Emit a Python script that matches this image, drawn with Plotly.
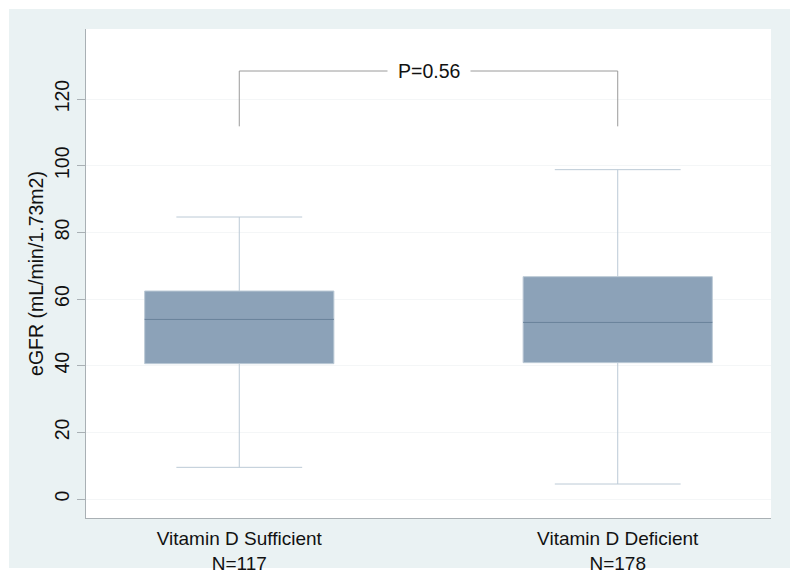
import plotly.graph_objects as go

# ---- data ----
categories = ["Vitamin D Sufficient", "Vitamin D Deficient"]
n_labels = ["N=117", "N=178"]
q1_vals = [40.6, 40.9]
median_vals = [53.9, 53.0]
q3_vals = [62.4, 66.7]
lower_whisker = [9.5, 4.5]
upper_whisker = [84.6, 98.8]
bracket_top = 128.4
bracket_bottom = 111.8
p_label = "P=0.56"
y_ticks = [0, 20, 40, 60, 80, 100, 120]
y_title = "eGFR (mL/min/1.73m2)"

# ---- style ----
FONT = "Liberation Sans, Arial, Helvetica, sans-serif"
FS = 19.5
OUTER_BG = "#eaf2f3"
BOX_FILL = "#8ca2b8"
WHISKER = "#bccad6"
MEDIAN = "#5d7792"
BRACKET = "#9a9a9a"
AXIS = "#a9b0b4"
TEXT = "#111111"
BOX_W = 0.5

positions = list(range(len(categories)))
tick_text = [f"{c}<br>{n}" for c, n in zip(categories, n_labels)]

fig = go.Figure()

for i, pos in enumerate(positions):
    fig.add_trace(go.Box(
        x=[pos],
        q1=[q1_vals[i]], median=[median_vals[i]], q3=[q3_vals[i]],
        lowerfence=[lower_whisker[i]], upperfence=[upper_whisker[i]],
        width=BOX_W, whiskerwidth=0.665,
        fillcolor=BOX_FILL,
        line=dict(color=WHISKER, width=1),
        boxpoints=False, showlegend=False, hoverinfo="skip",
    ))
    # darker median line on top of the box
    fig.add_trace(go.Scatter(
        x=[pos - BOX_W / 2, pos + BOX_W / 2],
        y=[median_vals[i], median_vals[i]],
        mode="lines", line=dict(color=MEDIAN, width=1),
        showlegend=False, hoverinfo="skip",
    ))

# significance bracket
fig.add_trace(go.Scatter(
    x=[positions[0], positions[0], positions[1], positions[1]],
    y=[bracket_bottom, bracket_top, bracket_top, bracket_bottom],
    mode="lines", line=dict(color=BRACKET, width=1),
    showlegend=False, hoverinfo="skip",
))
fig.add_annotation(
    x=(positions[0] + positions[1]) / 2, y=bracket_top, xref="x", yref="y",
    text=p_label, showarrow=False, font=dict(family=FONT, size=FS, color=TEXT),
    bgcolor="white", borderpad=10, xanchor="center", yanchor="middle",
)

# white page border around the light graph region
border = [
    (-0.14, -0.1124, -0.14, 1.08),   # left
    (1.0277, 1.06, -0.14, 1.08),     # right
    (-0.14, 1.06, 1.0409, 1.08),     # top
    (-0.14, 1.06, -0.14, -0.1022),   # bottom
]
for x0, x1, y0, y1 in border:
    fig.add_shape(type="rect", xref="paper", yref="paper",
                  x0=x0, x1=x1, y0=y0, y1=y1,
                  fillcolor="white", line=dict(width=0), layer="below")

fig.update_layout(
    width=800, height=579,
    margin=dict(l=86, r=29, t=29, b=61, autoexpand=False),
    paper_bgcolor=OUTER_BG, plot_bgcolor="white",
    font=dict(family=FONT, size=FS, color=TEXT),
    showlegend=False,
    xaxis=dict(
        range=[-0.405, 1.405], tickvals=positions, ticktext=tick_text,
        automargin=False,
        showgrid=False, zeroline=False,
        showline=True, linecolor=AXIS, linewidth=1,
        ticks="outside", ticklen=3, tickcolor="rgba(0,0,0,0)",
        tickfont=dict(family=FONT, size=19, color=TEXT),
        fixedrange=True,
    ),
    yaxis=dict(
        range=[-5.7, 141], tickvals=y_ticks,
        automargin=False,
        tickangle=-90,
        showgrid=True, gridcolor="#f4f6f7", gridwidth=1,
        zeroline=False,
        showline=True, linecolor=AXIS, linewidth=1,
        ticks="outside", ticklen=8, tickcolor=AXIS,
        tickfont=dict(family=FONT, size=FS, color=TEXT),
        title=dict(text=y_title, font=dict(family=FONT, size=FS, color=TEXT), standoff=2),
        fixedrange=True,
    ),
)

fig.write_html(
    "out.html",
    config={"displayModeBar": False},
    post_script="document.body.style.margin='0';document.body.style.padding='0';",
)
